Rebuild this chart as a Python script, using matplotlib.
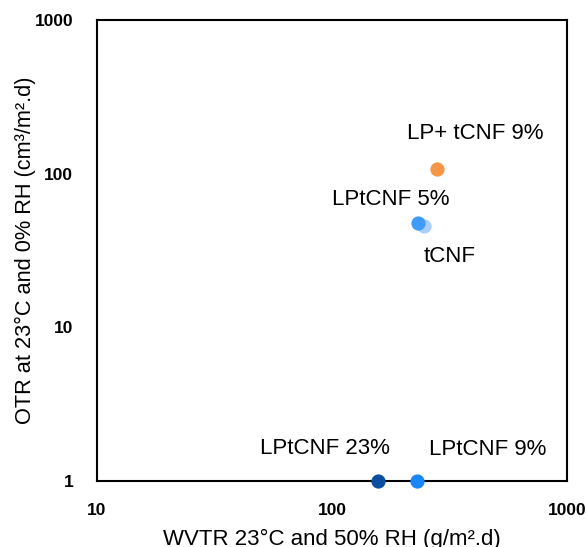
import matplotlib.pyplot as plt

plt.rcParams['font.family'] = ['Liberation Sans', 'DejaVu Sans']

labels = ["tCNF", "LPtCNF 5%", "LP+ tCNF 9%", "LPtCNF 23%", "LPtCNF 9%"]
wvtr = [247, 233, 281, 157, 229]
otr = [45.6, 48, 107, 1, 1]
colors = ["#a9cffa", "#3f9cfb", "#f79646", "#0b4f9e", "#1a86f7"]

# label offsets in points (dx, dy) relative to each point
offsets = [(18, -22), (-20, 16.5), (27, 26), (-38, 23.5), (51, 23)]

fig = plt.figure(figsize=(5.86, 5.47), dpi=100)
ax = fig.add_axes([0.1655, 0.1207, 0.8021, 0.8427])

for x, y, c in zip(wvtr, otr, colors):
    ax.scatter(x, y, s=105, color=c, zorder=3, clip_on=False, linewidths=0)

for lab, x, y, (dx, dy) in zip(labels, wvtr, otr, offsets):
    ax.annotate(lab, (x, y), xytext=(dx, dy), textcoords="offset points",
                ha="center", va="center", fontsize=16)

ax.set_xscale("log")
ax.set_yscale("log")
ax.set_xlim(10, 1000)
ax.set_ylim(1, 1000)
ax.set_xticks([10, 100, 1000])
ax.set_xticklabels(["10", "100", "1000"])
ax.set_yticks([1, 10, 100, 1000])
ax.set_yticklabels(["1", "10", "100", "1000"])
ax.minorticks_off()
ax.tick_params(length=0, labelsize=12.5)
ax.tick_params(axis="x", pad=16)
ax.tick_params(axis="y", pad=17)
for t in ax.get_xticklabels() + ax.get_yticklabels():
    t.set_fontweight("bold")

for s in ax.spines.values():
    s.set_linewidth(1.5)
    s.set_color("black")

ax.set_xlabel("WVTR 23°C and 50% RH (g/m².d)", fontsize=16, labelpad=8)
ax.set_ylabel("OTR at 23°C and 0% RH (cm³/m².d)", fontsize=15.7, labelpad=-1)

fig.savefig("out.png", dpi=100)
